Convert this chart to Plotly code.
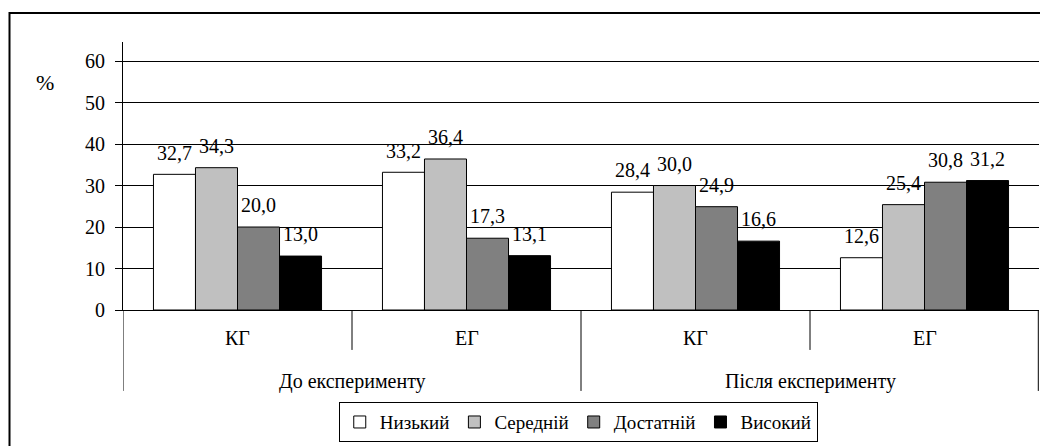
import plotly.graph_objects as go

# ---- data ----
stages = ["До експерименту", "Після експерименту"]
groups = ["КГ", "ЕГ"]
levels = ["Низький", "Середній", "Достатній", "Високий"]
low = [32.7, 33.2, 28.4, 12.6]
medium = [34.3, 36.4, 30.0, 25.4]
sufficient = [20.0, 17.3, 24.9, 30.8]
high = [13.0, 13.1, 16.6, 31.2]
series = [low, medium, sufficient, high]
colors = ["#ffffff", "#c0c0c0", "#808080", "#000000"]
y_ticks = [0, 10, 20, 30, 40, 50, 60]

FONT = "Liberation Serif"
FS = 20

# category keys (stage, group) in order
cats = [f"{s} · {g}" for s in stages for g in groups]
cat_stage = [s for s in stages for g in groups]
cat_group = [g for s in stages for g in groups]

fig = go.Figure()
for name, vals, col in zip(levels, series, colors):
    fig.add_trace(go.Bar(
        x=cats, y=vals, name=name,
        marker=dict(color=col, line=dict(color="#000000", width=1)),
        hoverinfo="skip",
    ))
for name, vals in zip(levels, series):
    fig.add_trace(go.Scatter(
        x=cats, y=vals, mode="markers+text",
        text=[f"{v:.1f}".replace(".", ",") for v in vals],
        textposition="top center",
        textfont=dict(family=FONT, size=FS, color="#000000"),
        marker=dict(size=14, opacity=0),
        showlegend=False, hoverinfo="skip", cliponaxis=False,
    ))

shapes = []
# outer frame
shapes.append(dict(type="rect", xref="paper", yref="paper",
                   x0=-0.1239, x1=1.05, y0=-0.8, y1=1.108,
                   line=dict(color="#000000", width=2), layer="below"))
# category dividers below the axis
n = len(cats)
for i in range(n + 1):
    b = min(i - 0.5, n - 0.5 - 0.003)
    long_line = (i % len(groups) == 0)
    shapes.append(dict(type="line", xref="x", yref="paper",
                       x0=b, x1=b, y0=0, y1=(-0.302 if long_line else -0.149),
                       line=dict(color="#000000", width=1)))

annotations = []
for i, g in enumerate(cat_group):
    annotations.append(dict(xref="x", yref="paper", x=i, y=-0.105, yanchor="middle",
                            text=g, showarrow=False,
                            font=dict(family=FONT, size=FS, color="#000000")))
for j, s in enumerate(stages):
    idx = [i for i, st in enumerate(cat_stage) if st == s]
    annotations.append(dict(xref="x", yref="paper", x=sum(idx) / len(idx), y=-0.265,
                            yanchor="middle", text=s, showarrow=False,
                            font=dict(family=FONT, size=FS, color="#000000")))
annotations.append(dict(xref="paper", yref="paper", x=-0.097, y=0.85, yanchor="middle",
                        text="%", showarrow=False,
                        font=dict(family=FONT, size=22, color="#000000")))

fig.update_layout(
    width=1040, height=446,
    margin=dict(l=123, r=1, t=42, b=136, autoexpand=False),
    paper_bgcolor="#ffffff", plot_bgcolor="#ffffff",
    barmode="group", bargap=0.266, bargroupgap=0,
    scattermode="group", scattergap=0.266,
    font=dict(family=FONT, size=FS, color="#000000"),
    showlegend=True,
    legend=dict(orientation="h", x=0.497, xanchor="center", y=-0.493, yanchor="bottom",
                bordercolor="#000000", borderwidth=1,
                font=dict(family=FONT, size=19, color="#000000"),
                itemwidth=30, tracegroupgap=0),
    xaxis=dict(type="category", range=[-0.5, n - 0.5], showticklabels=False,
               showline=True, linecolor="#000000", linewidth=1,
               showgrid=False, ticks="", zeroline=False),
    yaxis=dict(range=[0, 64.6], tickvals=y_ticks, ticks="outside", ticklen=7,
               tickcolor="#000000", showline=True, linecolor="#000000", linewidth=1,
               showgrid=True, gridcolor="#000000", gridwidth=1,
               zeroline=False, ticklabelstandoff=6),
    shapes=shapes, annotations=annotations,
)

fig.write_html("out.html", config={"displayModeBar": False},
               post_script="document.body.style.margin='0';document.body.style.overflow='hidden';")
